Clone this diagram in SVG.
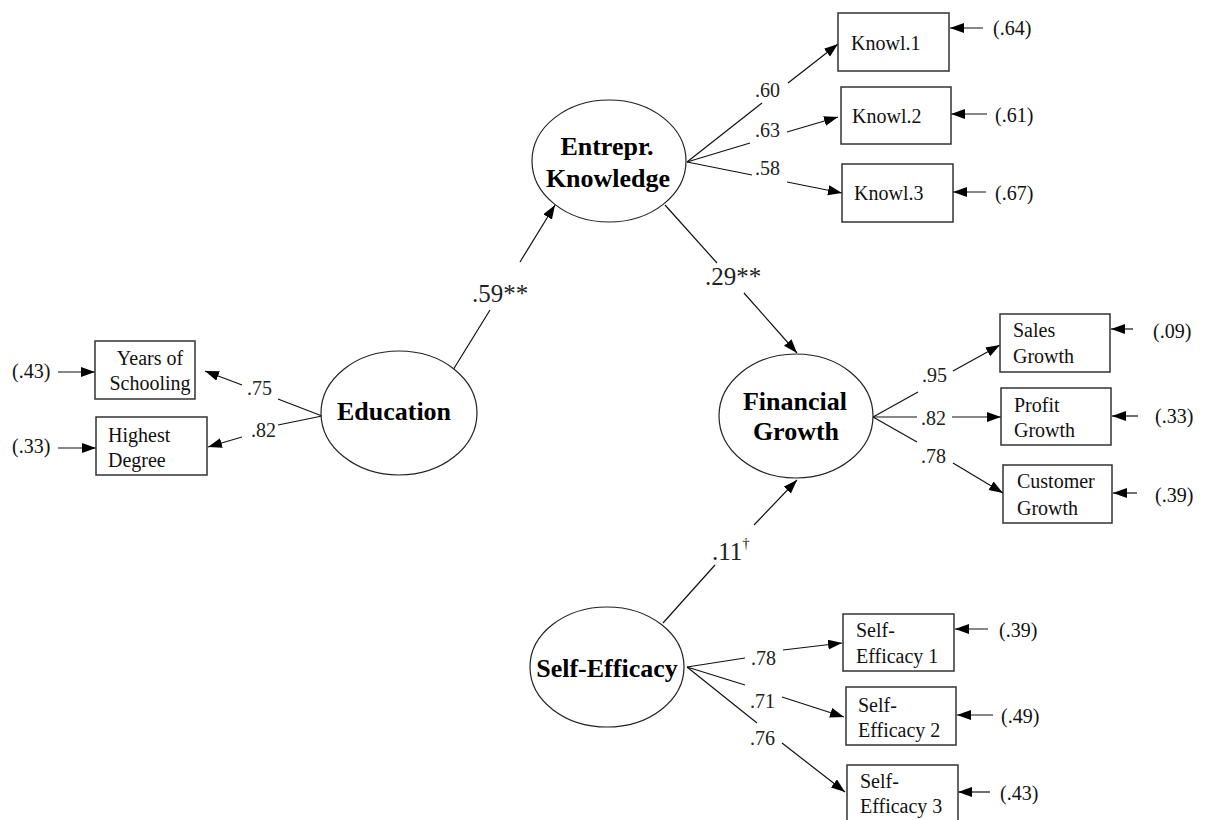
<svg xmlns="http://www.w3.org/2000/svg" width="1210" height="820" viewBox="0 0 1210 820">
<defs>
<marker id="ah" markerUnits="userSpaceOnUse" markerWidth="15" markerHeight="11" refX="14" refY="5" orient="auto"><path d="M0,0 L14,5 L0,10 z" fill="#000"/></marker>
<style>
.lat{fill:#fff;stroke:#222;stroke-width:1.2}
.box{fill:#fff;stroke:#333;stroke-width:1.5}
.lt{font-family:"Liberation Serif","Times New Roman",serif;font-weight:bold;font-size:26px;fill:#000;text-anchor:middle}
.bt{font-family:"Liberation Serif","Times New Roman",serif;font-size:20px;fill:#111}
.kt{font-family:"Liberation Serif","Times New Roman",serif;font-size:20px;fill:#111}
.el{font-family:"Liberation Serif","Times New Roman",serif;font-size:20px;fill:#111}
.pl{font-family:"Liberation Serif","Times New Roman",serif;font-size:20px;fill:#222}
.sl{font-family:"Liberation Serif","Times New Roman",serif;font-size:25px;fill:#222}
.c{fill:none;stroke:#111;stroke-width:1.2}
.ca{fill:none;stroke:#111;stroke-width:1.2;marker-end:url(#ah)}
</style>
</defs>
<rect width="1210" height="820" fill="#fff"/>

<g id="connectors">
<path class="ca" d="M453,370 L490,310 M520,262 L555,205"/>
<path class="ca" d="M665,205 L717,263 M744,293 L797,353"/>
<path class="ca" d="M663,623 L715,565 M754,525 L797,480"/>
<path class="ca" d="M687,162 L762,103 M788,83 L838,44"/>
<path class="ca" d="M687,162 L750,143 M787,132 L838,117"/>
<path class="ca" d="M687,162 L752,175 M787,182 L842,193"/>
<path class="ca" d="M873,417 L918,392 M953,371 L1000,345"/>
<path class="ca" d="M873,417 L917,417 M952,417 L1001,417"/>
<path class="ca" d="M873,417 L917,442 M953,463 L1003,493"/>
<path class="ca" d="M687,667 L745,658 M783,650 L842,643"/>
<path class="ca" d="M687,667 L745,685 M782,697 L844,717"/>
<path class="ca" d="M687,667 L757,723 M782,743 L845,792"/>
<path class="ca" d="M322,416 L278,399 M242,385 L205,371"/>
<path class="ca" d="M322,416 L278,425 M242,437 L208,447"/>
<path class="ca" d="M983,28 L950,28"/>
<path class="ca" d="M987,114 L951,114"/>
<path class="ca" d="M986,192 L953,192"/>
<path class="ca" d="M1133,329 L1111,329"/>
<path class="ca" d="M1138,416 L1112,416"/>
<path class="ca" d="M1137,493 L1113,493"/>
<path class="ca" d="M988,629 L955,629"/>
<path class="ca" d="M993,715 L957,715"/>
<path class="ca" d="M990,792 L958,792"/>
<path class="ca" d="M58,372 L95,372"/>
<path class="ca" d="M58,448 L96,448"/>
<text class="sl" x="472" y="302">.59**</text>
<text class="sl" x="705" y="285">.29**</text>
<text class="sl" x="712" y="560">.11<tspan font-size="15" dy="-12" fill="#222">†</tspan></text>
<text class="pl" x="755" y="97">.60</text>
<text class="pl" x="755" y="137">.63</text>
<text class="pl" x="755" y="175">.58</text>
<text class="pl" x="922" y="382">.95</text>
<text class="pl" x="921" y="425">.82</text>
<text class="pl" x="921" y="463">.78</text>
<text class="pl" x="751" y="665">.78</text>
<text class="pl" x="750" y="708">.71</text>
<text class="pl" x="750" y="745">.76</text>
<text class="pl" x="247" y="395">.75</text>
<text class="pl" x="251" y="437">.82</text>
</g>

<g id="education"><ellipse class="lat" cx="399" cy="413" rx="78" ry="62"/><text class="lt" x="394" y="420">Education</text></g>
<g id="entrepr-knowledge"><ellipse class="lat" cx="609" cy="161" rx="77" ry="61"/><text class="lt" x="607" y="155">Entrepr.</text><text class="lt" x="608" y="187">Knowledge</text></g>
<g id="financial-growth"><ellipse class="lat" cx="796" cy="416" rx="77" ry="62"/><text class="lt" x="795" y="410">Financial</text><text class="lt" x="796" y="440">Growth</text></g>
<g id="self-efficacy"><ellipse class="lat" cx="607" cy="667" rx="77" ry="60"/><text class="lt" x="607" y="677">Self-Efficacy</text></g>

<g id="years-schooling"><rect class="box" x="95" y="341" width="100" height="58"/><text class="bt" x="150" y="365" text-anchor="middle">Years of</text><text class="bt" x="150" y="390" text-anchor="middle">Schooling</text><text class="el" x="12" y="378">(.43)</text></g>
<g id="highest-degree"><rect class="box" x="96" y="417" width="111" height="58"/><text class="bt" x="108" y="442">Highest</text><text class="bt" x="108" y="467">Degree</text><text class="el" x="12" y="453">(.33)</text></g>

<g id="knowl1"><rect class="box" x="838" y="13" width="111" height="58"/><text class="kt" x="851" y="50">Knowl.1</text><text class="el" x="993" y="35">(.64)</text></g>
<g id="knowl2"><rect class="box" x="841" y="87" width="110" height="57"/><text class="kt" x="852" y="123">Knowl.2</text><text class="el" x="995" y="122">(.61)</text></g>
<g id="knowl3"><rect class="box" x="842" y="164" width="111" height="58"/><text class="kt" x="854" y="200">Knowl.3</text><text class="el" x="995" y="200">(.67)</text></g>

<g id="sales-growth"><rect class="box" x="1000" y="314" width="110" height="58"/><text class="bt" x="1013" y="337">Sales</text><text class="bt" x="1013" y="363">Growth</text><text class="el" x="1153" y="338">(.09)</text></g>
<g id="profit-growth"><rect class="box" x="1001" y="388" width="110" height="57"/><text class="bt" x="1014" y="412">Profit</text><text class="bt" x="1014" y="437">Growth</text><text class="el" x="1155" y="423">(.33)</text></g>
<g id="customer-growth"><rect class="box" x="1003" y="465" width="109" height="58"/><text class="bt" x="1017" y="488">Customer</text><text class="bt" x="1017" y="515">Growth</text><text class="el" x="1155" y="502">(.39)</text></g>

<g id="self-efficacy-1"><rect class="box" x="843" y="614" width="111" height="57"/><text class="bt" x="856" y="637">Self-</text><text class="bt" x="856" y="663">Efficacy 1</text><text class="el" x="999" y="637">(.39)</text></g>
<g id="self-efficacy-2"><rect class="box" x="846" y="687" width="110" height="58"/><text class="bt" x="858" y="712">Self-</text><text class="bt" x="858" y="737">Efficacy 2</text><text class="el" x="1001" y="723">(.49)</text></g>
<g id="self-efficacy-3"><rect class="box" x="847" y="765" width="111" height="58"/><text class="bt" x="860" y="788">Self-</text><text class="bt" x="860" y="813">Efficacy 3</text><text class="el" x="1000" y="800">(.43)</text></g>
</svg>
